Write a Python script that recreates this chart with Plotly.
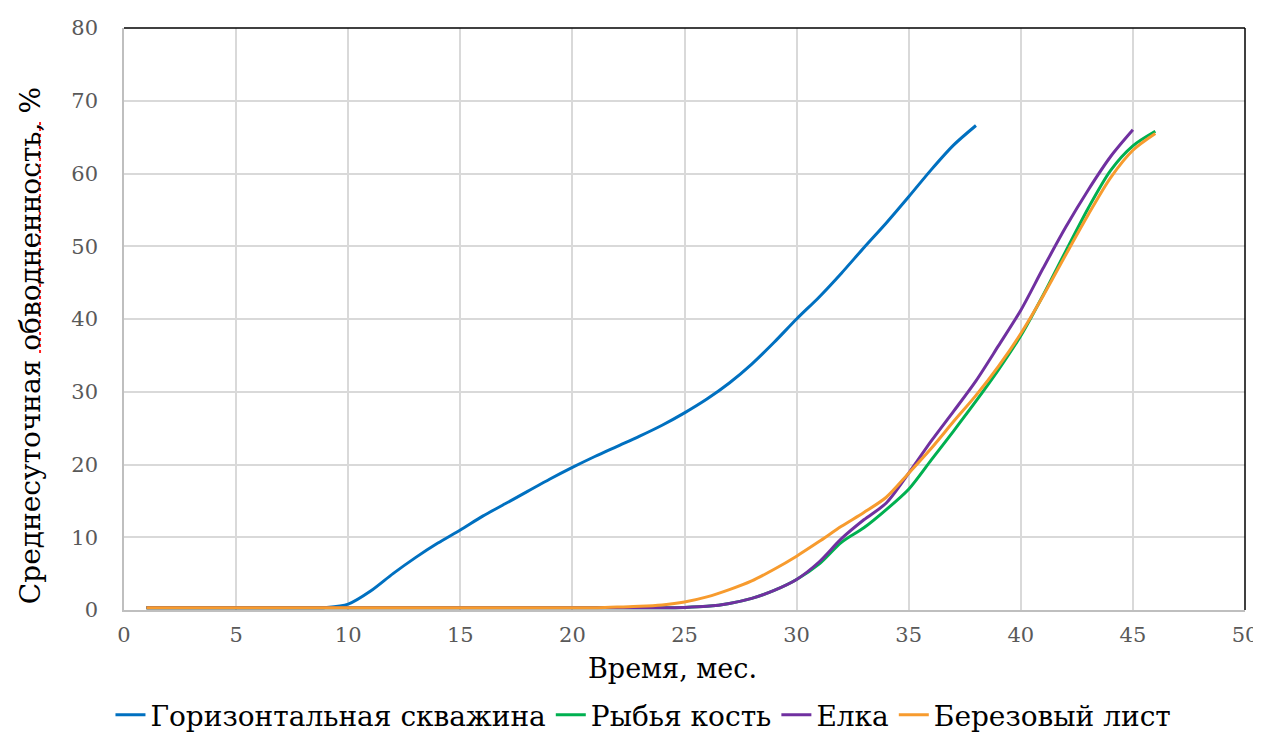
import plotly.graph_objects as go

months_h = list(range(1, 39))
horiz = [0.3, 0.3, 0.3, 0.3, 0.3, 0.3, 0.3, 0.3, 0.35, 0.8,
         2.6, 5.0, 7.2, 9.2, 11.0, 12.9, 14.6, 16.3, 18.0, 19.6,
         21.1, 22.5, 23.9, 25.4, 27.1, 29.0, 31.2, 33.8, 36.8, 40.0,
         43.0, 46.3, 49.8, 53.2, 56.8, 60.5, 63.9, 66.6]

months_f = list(range(1, 47))
fishbone = [0.3] * 24 + [0.35, 0.5, 0.9, 1.6, 2.7, 4.2, 6.3, 9.3, 11.3, 13.8,
                         16.6, 20.6, 24.6, 28.7, 33.0, 37.7, 43.3, 49.3, 55.2, 60.4,
                         63.8, 65.8]

months_e = list(range(1, 46))
elka = [0.3] * 24 + [0.35, 0.5, 0.9, 1.6, 2.7, 4.2, 6.6, 9.8, 12.4, 14.7,
                     18.8, 23.2, 27.3, 31.5, 36.3, 41.2, 47.0, 52.6, 57.7, 62.3,
                     66.0]

months_b = list(range(1, 47))
birch = [0.3] * 21 + [0.4, 0.5, 0.7, 1.1, 1.8, 2.8, 4.0, 5.6, 7.4, 9.4,
                      11.5, 13.4, 15.5, 18.8, 22.2, 25.9, 29.5, 33.5, 38.0, 43.2,
                      48.8, 54.3, 59.4, 63.2, 65.5]

names = ["Горизонтальная скважина", "Рыбья кость", "Елка", "Березовый лист"]
colors = ["#0070C0", "#00B050", "#7030A0", "#F79B2E"]
series = [(months_h, horiz), (months_f, fishbone), (months_e, elka), (months_b, birch)]

x_title = "Время, мес."
y_title = "Среднесуточная обводненность, %"

FF = "DejaVu Serif"

fig = go.Figure()
for (xs, ys), name, col in zip(series, names, colors):
    fig.add_trace(go.Scatter(x=xs, y=ys, mode="lines", name=name,
                             line=dict(color=col, width=3, shape="spline", smoothing=0.8)))

fig.update_layout(
    width=1253, height=732,
    margin=dict(l=116, r=16, t=20, b=130),
    paper_bgcolor="white", plot_bgcolor="white",
    font=dict(family=FF, color="black"),
    showlegend=True,
    legend=dict(orientation="h", x=0.4634, xanchor="center", yref="container", y=0.0, yanchor="bottom",
                font=dict(size=28, color="black", family=FF),
                itemwidth=30, tracegroupgap=0, traceorder="normal"),
    xaxis=dict(range=[0, 50], dtick=5, showgrid=True, gridcolor="#D9D9D9", gridwidth=1.5,
               showline=True, linecolor="#BFBFBF", linewidth=1.5, zeroline=False,
               automargin=False, ticks="", ticklabelstandoff=5, ticklabeloverflow="allow",
               tickfont=dict(size=21, color="#595959", family=FF)),
    yaxis=dict(range=[0, 80], dtick=10, showgrid=True, gridcolor="#D9D9D9", gridwidth=1.5,
               showline=True, linecolor="#BFBFBF", linewidth=1.5, zeroline=False,
               automargin=False, ticks="", ticklabelstandoff=20,
               tickfont=dict(size=21, color="#595959", family=FF)),
    annotations=[
        dict(text=x_title, xref="paper", yref="paper", x=0.489, y=-0.1,
             xanchor="center", yanchor="middle", showarrow=False,
             font=dict(size=27, color="black", family=FF)),
        dict(text=y_title, xref="paper", yref="paper", x=-0.0839, y=0.455,
             xanchor="center", yanchor="middle", showarrow=False, textangle=-90,
             font=dict(size=28, color="black", family=FF)),
    ],
    shapes=[
        dict(type="line", xref="paper", yref="paper", x0=0, x1=1, y0=1, y1=1,
             line=dict(color="black", width=1.5)),
        dict(type="line", xref="paper", yref="paper", x0=1, x1=1, y0=0, y1=1,
             line=dict(color="black", width=1.5)),
        dict(type="line", xref="paper", yref="paper", x0=-0.0749, x1=-0.0749,
             y0=0.4416, y1=0.8385, line=dict(color="#FF2020", width=2, dash="dot")),
    ],
)

fig.write_html("out.html")
